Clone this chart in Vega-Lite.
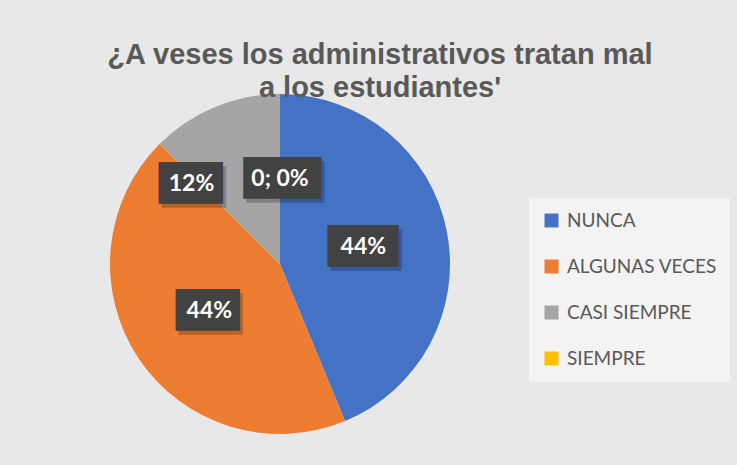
{
  "$schema": "https://vega.github.io/schema/vega-lite/v6.json",
  "width": 340,
  "height": 340,
  "autosize": {"type": "none"},
  "padding": {"left": 110, "top": 94, "right": 287, "bottom": 31},
  "background": "#e8e8e8",
  "title": {
    "text": ["¿A veses los administrativos tratan mal", "a los estudiantes'"],
    "font": "Liberation Sans",
    "fontSize": 29,
    "fontWeight": "bold",
    "color": "#595959",
    "anchor": "middle",
    "dx": 100,
    "offset": -9,
    "lineHeight": 33
  },
  "data": {
    "values": [
      {"cat": "NUNCA", "n": 7, "orden": 1, "etiqueta": "44%"},
      {"cat": "ALGUNAS VECES", "n": 7, "orden": 2, "etiqueta": "44%"},
      {"cat": "CASI SIEMPRE", "n": 2, "orden": 3, "etiqueta": "12%"},
      {"cat": "SIEMPRE", "n": 0, "orden": 4, "etiqueta": "0; 0%"}
    ]
  },
  "encoding": {
    "theta": {"field": "n", "type": "quantitative", "stack": true},
    "order": {"field": "orden", "type": "quantitative"},
    "detail": {"field": "cat", "type": "nominal"}
  },
  "layer": [
    {
      "mark": {"type": "arc", "outerRadius": 170},
      "encoding": {
        "color": {
          "field": "cat",
          "type": "nominal",
          "sort": ["NUNCA", "ALGUNAS VECES", "CASI SIEMPRE", "SIEMPRE"],
          "scale": {
            "domain": ["NUNCA", "ALGUNAS VECES", "CASI SIEMPRE", "SIEMPRE"],
            "range": ["#4472C4", "#ED7D31", "#A5A5A5", "#FFC000"]
          },
          "legend": {
            "title": null,
            "orient": "none",
            "legendX": 419,
            "legendY": 104,
            "symbolType": "square",
            "symbolSize": 196,
            "symbolStrokeWidth": 0,
            "labelFont": "Lato",
            "labelFontSize": 19,
            "labelColor": "#595959",
            "labelOffset": 6,
            "rowPadding": 26,
            "padding": 13,
            "fillColor": "#f3f3f3"
          }
        }
      }
    },
    {
      "mark": {"type": "text", "radius": 85, "font": "DejaVu Sans", "fontSize": 35, "color": "#000000", "opacity": 0.22, "dx": 8, "dy": 4, "align": "center", "baseline": "middle"},
      "encoding": {"text": {"condition": {"test": "datum.cat === 'NUNCA'", "value": "██▋"}, "value": ""}}
    },
    {
      "mark": {"type": "text", "radius": 85, "font": "DejaVu Sans", "fontSize": 35, "color": "#000000", "opacity": 0.22, "dx": 10, "dy": 4, "align": "center", "baseline": "middle"},
      "encoding": {"text": {"condition": {"test": "datum.cat === 'ALGUNAS VECES'", "value": "██▍"}, "value": ""}}
    },
    {
      "mark": {"type": "text", "radius": 85, "font": "DejaVu Sans", "fontSize": 35, "color": "#000000", "opacity": 0.22, "dx": -45, "dy": 3, "align": "center", "baseline": "middle"},
      "encoding": {"text": {"condition": {"test": "datum.cat === 'CASI SIEMPRE'", "value": "██▍"}, "value": ""}}
    },
    {
      "mark": {"type": "text", "radius": 85, "font": "DejaVu Sans", "fontSize": 35, "color": "#000000", "opacity": 0.22, "dx": 7, "dy": 4, "align": "center", "baseline": "middle"},
      "encoding": {"text": {"condition": {"test": "datum.cat === 'SIEMPRE'", "value": "██▉"}, "value": ""}}
    },
    {
      "mark": {"type": "text", "radius": 85, "font": "DejaVu Sans", "fontSize": 35, "color": "#424242", "dx": 5, "align": "center", "baseline": "middle"},
      "encoding": {"text": {"condition": {"test": "datum.cat === 'NUNCA'", "value": "██▋"}, "value": ""}}
    },
    {
      "mark": {"type": "text", "radius": 85, "font": "DejaVu Sans", "fontSize": 35, "color": "#424242", "dx": 7, "align": "center", "baseline": "middle"},
      "encoding": {"text": {"condition": {"test": "datum.cat === 'ALGUNAS VECES'", "value": "██▍"}, "value": ""}}
    },
    {
      "mark": {"type": "text", "radius": 85, "font": "DejaVu Sans", "fontSize": 35, "color": "#424242", "dx": -48, "dy": -1, "align": "center", "baseline": "middle"},
      "encoding": {"text": {"condition": {"test": "datum.cat === 'CASI SIEMPRE'", "value": "██▍"}, "value": ""}}
    },
    {
      "mark": {"type": "text", "radius": 85, "font": "DejaVu Sans", "fontSize": 35, "color": "#424242", "dx": 4, "align": "center", "baseline": "middle"},
      "encoding": {"text": {"condition": {"test": "datum.cat === 'SIEMPRE'", "value": "██▉"}, "value": ""}}
    },
    {
      "mark": {"type": "text", "radius": 85, "font": "Lato", "fontSize": 23, "fontWeight": "bold", "color": "#ffffff", "align": "center", "baseline": "middle"},
      "encoding": {
        "text": {"condition": {"test": "datum.cat === 'CASI SIEMPRE'", "value": ""}, "field": "etiqueta", "type": "nominal"}
      }
    },
    {
      "mark": {"type": "text", "radius": 85, "font": "Lato", "fontSize": 23, "fontWeight": "bold", "color": "#ffffff", "dx": -56, "dy": -1, "align": "center", "baseline": "middle"},
      "encoding": {
        "text": {"condition": {"test": "datum.cat !== 'CASI SIEMPRE'", "value": ""}, "field": "etiqueta", "type": "nominal"}
      }
    }
  ],
  "config": {"view": {"stroke": null}}
}
